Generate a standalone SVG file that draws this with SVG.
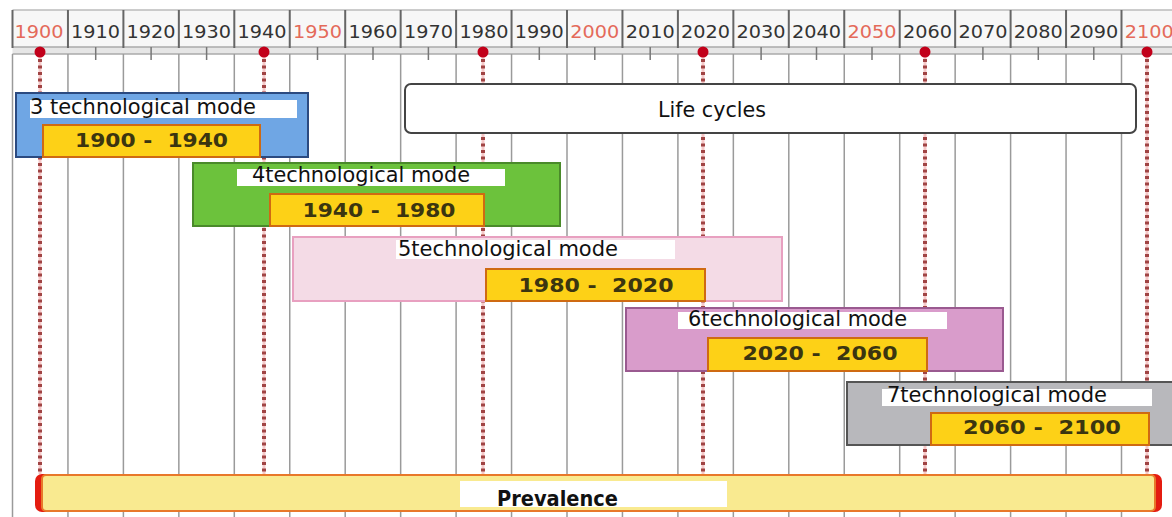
<svg xmlns="http://www.w3.org/2000/svg" width="1172" height="517" viewBox="0 0 1172 517">
<style>
.yr{font-family:"DejaVu Sans","Liberation Sans",sans-serif;font-size:18px;text-anchor:middle;fill:#333}
.yr.r{fill:#e46a5a}
.grid{stroke:#9a9a9a;stroke-width:1.5}
.div{stroke:#666;stroke-width:2}
.tick{stroke:#777;stroke-width:1.5}
.dot{fill:#c2001a}
.dl{stroke:#a04444;stroke-width:4;stroke-dasharray:3 3.5;fill:none}
.dlbg{stroke:#f6c8c8;stroke-width:3;fill:none}
.ttl{font-family:"DejaVu Sans","Liberation Sans",sans-serif;font-size:21px;fill:#111}
.rng{font-family:"DejaVu Sans","Liberation Sans",sans-serif;font-size:20px;font-weight:bold;fill:#3b3510;text-anchor:middle;white-space:pre}
.yb{fill:#fdd117;stroke:#cf6a12;stroke-width:2}
.hl{fill:#ffffff}
</style>
<rect width="1172" height="517" fill="#ffffff"/>
<g id="timeline-header">
  <rect x="12.5" y="10" width="1160" height="38" fill="#f7f7f7"/>
  <line x1="12.5" y1="10" x2="1172" y2="10" stroke="#bbb" stroke-width="1.5"/>
  <rect x="12.5" y="47" width="1160" height="7" fill="#e6e6e6"/>
  <line x1="12.5" y1="47" x2="1172" y2="47" stroke="#aaa" stroke-width="1.5"/>
  <line x1="12.5" y1="54" x2="1172" y2="54" stroke="#aaa" stroke-width="1.5"/>
  <g class="div">
    <line x1="12.5" y1="10" x2="12.5" y2="48"/><line x1="67.95" y1="10" x2="67.95" y2="48"/><line x1="123.4" y1="10" x2="123.4" y2="48"/><line x1="178.85" y1="10" x2="178.85" y2="48"/><line x1="234.3" y1="10" x2="234.3" y2="48"/><line x1="289.75" y1="10" x2="289.75" y2="48"/><line x1="345.2" y1="10" x2="345.2" y2="48"/><line x1="400.65" y1="10" x2="400.65" y2="48"/><line x1="456.1" y1="10" x2="456.1" y2="48"/><line x1="511.55" y1="10" x2="511.55" y2="48"/><line x1="567" y1="10" x2="567" y2="48"/><line x1="622.45" y1="10" x2="622.45" y2="48"/><line x1="677.9" y1="10" x2="677.9" y2="48"/><line x1="733.35" y1="10" x2="733.35" y2="48"/><line x1="788.8" y1="10" x2="788.8" y2="48"/><line x1="844.25" y1="10" x2="844.25" y2="48"/><line x1="899.7" y1="10" x2="899.7" y2="48"/><line x1="955.15" y1="10" x2="955.15" y2="48"/><line x1="1010.6" y1="10" x2="1010.6" y2="48"/><line x1="1066.05" y1="10" x2="1066.05" y2="48"/><line x1="1121.5" y1="10" x2="1121.5" y2="48"/>
  </g>
  <g class="tick">
    <line x1="95.7" y1="47" x2="95.7" y2="60"/><line x1="151.1" y1="47" x2="151.1" y2="60"/><line x1="206.6" y1="47" x2="206.6" y2="60"/><line x1="317.5" y1="47" x2="317.5" y2="60"/><line x1="373" y1="47" x2="373" y2="60"/><line x1="428.4" y1="47" x2="428.4" y2="60"/><line x1="539.3" y1="47" x2="539.3" y2="60"/><line x1="594.8" y1="47" x2="594.8" y2="60"/><line x1="650.2" y1="47" x2="650.2" y2="60"/><line x1="761.1" y1="47" x2="761.1" y2="60"/><line x1="816.5" y1="47" x2="816.5" y2="60"/><line x1="872" y1="47" x2="872" y2="60"/><line x1="982.9" y1="47" x2="982.9" y2="60"/><line x1="1038.3" y1="47" x2="1038.3" y2="60"/><line x1="1093.8" y1="47" x2="1093.8" y2="60"/>
  </g>
  <text class="yr r" x="39" y="38" textLength="49" lengthAdjust="spacingAndGlyphs">1900</text>
  <text class="yr" x="95.5" y="38" textLength="49" lengthAdjust="spacingAndGlyphs">1910</text>
  <text class="yr" x="151" y="38" textLength="49" lengthAdjust="spacingAndGlyphs">1920</text>
  <text class="yr" x="206.5" y="38" textLength="49" lengthAdjust="spacingAndGlyphs">1930</text>
  <text class="yr" x="262" y="38" textLength="49" lengthAdjust="spacingAndGlyphs">1940</text>
  <text class="yr r" x="317.5" y="38" textLength="49" lengthAdjust="spacingAndGlyphs">1950</text>
  <text class="yr" x="373" y="38" textLength="49" lengthAdjust="spacingAndGlyphs">1960</text>
  <text class="yr" x="428.4" y="38" textLength="49" lengthAdjust="spacingAndGlyphs">1970</text>
  <text class="yr" x="483.9" y="38" textLength="49" lengthAdjust="spacingAndGlyphs">1980</text>
  <text class="yr" x="539.3" y="38" textLength="49" lengthAdjust="spacingAndGlyphs">1990</text>
  <text class="yr r" x="594.8" y="38" textLength="49" lengthAdjust="spacingAndGlyphs">2000</text>
  <text class="yr" x="650.2" y="38" textLength="49" lengthAdjust="spacingAndGlyphs">2010</text>
  <text class="yr" x="705.6" y="38" textLength="49" lengthAdjust="spacingAndGlyphs">2020</text>
  <text class="yr" x="761.1" y="38" textLength="49" lengthAdjust="spacingAndGlyphs">2030</text>
  <text class="yr" x="816.5" y="38" textLength="49" lengthAdjust="spacingAndGlyphs">2040</text>
  <text class="yr r" x="872" y="38" textLength="49" lengthAdjust="spacingAndGlyphs">2050</text>
  <text class="yr" x="927.4" y="38" textLength="49" lengthAdjust="spacingAndGlyphs">2060</text>
  <text class="yr" x="982.9" y="38" textLength="49" lengthAdjust="spacingAndGlyphs">2070</text>
  <text class="yr" x="1038.3" y="38" textLength="49" lengthAdjust="spacingAndGlyphs">2080</text>
  <text class="yr" x="1093.8" y="38" textLength="49" lengthAdjust="spacingAndGlyphs">2090</text>
  <text class="yr r" x="1149.2" y="38" textLength="49" lengthAdjust="spacingAndGlyphs">2100</text>
</g>
<g id="grid" class="grid">
  <line x1="12.5" y1="54" x2="12.5" y2="517"/><line x1="67.95" y1="54" x2="67.95" y2="517"/><line x1="123.4" y1="54" x2="123.4" y2="517"/><line x1="178.85" y1="54" x2="178.85" y2="517"/><line x1="234.3" y1="54" x2="234.3" y2="517"/><line x1="289.75" y1="54" x2="289.75" y2="517"/><line x1="345.2" y1="54" x2="345.2" y2="517"/><line x1="400.65" y1="54" x2="400.65" y2="517"/><line x1="456.1" y1="54" x2="456.1" y2="517"/><line x1="511.55" y1="54" x2="511.55" y2="517"/><line x1="567" y1="54" x2="567" y2="517"/><line x1="622.45" y1="54" x2="622.45" y2="517"/><line x1="677.9" y1="54" x2="677.9" y2="517"/><line x1="733.35" y1="54" x2="733.35" y2="517"/><line x1="788.8" y1="54" x2="788.8" y2="517"/><line x1="844.25" y1="54" x2="844.25" y2="517"/><line x1="899.7" y1="54" x2="899.7" y2="517"/><line x1="955.15" y1="54" x2="955.15" y2="517"/><line x1="1010.6" y1="54" x2="1010.6" y2="517"/><line x1="1066.05" y1="54" x2="1066.05" y2="517"/><line x1="1121.5" y1="54" x2="1121.5" y2="517"/>
</g>
<g id="connectors">
  <g class="dlbg">
    <line x1="40" y1="56" x2="40" y2="474"/><line x1="264" y1="56" x2="264" y2="474"/><line x1="483" y1="56" x2="483" y2="474"/><line x1="703" y1="56" x2="703" y2="474"/><line x1="925" y1="56" x2="925" y2="474"/><line x1="1147" y1="56" x2="1147" y2="474"/>
  </g>
  <g class="dl">
    <line x1="40" y1="59" x2="40" y2="474"/><line x1="264" y1="59" x2="264" y2="474"/><line x1="483" y1="59" x2="483" y2="474"/><line x1="703" y1="59" x2="703" y2="474"/><line x1="925" y1="59" x2="925" y2="474"/><line x1="1147" y1="59" x2="1147" y2="474"/>
  </g>
  <g class="dot">
    <circle cx="40" cy="52" r="5.5"/><circle cx="264" cy="52" r="5.5"/><circle cx="483" cy="52" r="5.5"/><circle cx="703" cy="52" r="5.5"/><circle cx="925" cy="52" r="5.5"/><circle cx="1147" cy="52" r="5.5"/>
  </g>
</g>
<g id="life-cycles">
  <rect x="405" y="84" width="731" height="49" rx="6" fill="#ffffff" stroke="#444" stroke-width="2"/>
  <text class="ttl" x="658" y="117" textLength="108" lengthAdjust="spacingAndGlyphs">Life cycles</text>
</g>
<g id="mode3">
  <rect x="16" y="93" width="292" height="64" fill="#6fa6e4" stroke="#2b4a80" stroke-width="2"/>
  <rect class="hl" x="30" y="100" width="267" height="18"/>
  <text class="ttl" x="30" y="114" textLength="226" lengthAdjust="spacingAndGlyphs">3 technological mode</text>
  <rect class="yb" x="43" y="125" width="217" height="32"/>
  <text class="rng" x="151.5" y="147" textLength="153" lengthAdjust="spacingAndGlyphs">1900 -  1940</text>
</g>
<g id="mode4">
  <rect x="193" y="163" width="367" height="63" fill="#6cc23c" stroke="#4a8a2a" stroke-width="2"/>
  <rect class="hl" x="237" y="169" width="268" height="17"/>
  <text class="ttl" x="252" y="182" textLength="218" lengthAdjust="spacingAndGlyphs">4technological mode</text>
  <rect class="yb" x="270" y="194" width="214" height="32"/>
  <text class="rng" x="379" y="217" textLength="153" lengthAdjust="spacingAndGlyphs">1940 -  1980</text>
</g>
<g id="mode5">
  <rect x="293" y="237" width="489" height="64" fill="#f4dbe6" stroke="#e8a0c0" stroke-width="2"/>
  <rect class="hl" x="396" y="240" width="279" height="19"/>
  <text class="ttl" x="398" y="256" textLength="220" lengthAdjust="spacingAndGlyphs">5technological mode</text>
  <rect class="yb" x="486" y="269" width="219" height="32"/>
  <text class="rng" x="596" y="292" textLength="155" lengthAdjust="spacingAndGlyphs">1980 -  2020</text>
</g>
<g id="mode6">
  <rect x="626" y="308" width="377" height="63" fill="#d99ccb" stroke="#9a5a90" stroke-width="2"/>
  <rect class="hl" x="678" y="312" width="269" height="17"/>
  <text class="ttl" x="688" y="326" textLength="219" lengthAdjust="spacingAndGlyphs">6technological mode</text>
  <rect class="yb" x="708" y="338" width="219" height="33"/>
  <text class="rng" x="820" y="360" textLength="155" lengthAdjust="spacingAndGlyphs">2020 -  2060</text>
</g>
<g id="mode7">
  <rect x="847" y="382" width="330" height="63" fill="#b8b8bc" stroke="#555" stroke-width="2"/>
  <rect class="hl" x="882" y="389" width="270" height="17"/>
  <text class="ttl" x="887" y="402" textLength="220" lengthAdjust="spacingAndGlyphs">7technological mode</text>
  <rect class="yb" x="931" y="413" width="218" height="32"/>
  <text class="rng" x="1042" y="434" textLength="158" lengthAdjust="spacingAndGlyphs">2060 -  2100</text>
</g>
<g id="prevalence">
  <rect x="35" y="474" width="1127" height="38" rx="7" fill="#e41c10"/>
  <rect x="42" y="475" width="1113" height="36" rx="4" fill="#f9ea90" stroke="#e8782a" stroke-width="2"/>
  <rect class="hl" x="460" y="481" width="267" height="26"/>
  <text x="497" y="506" font-family="DejaVu Sans, Liberation Sans, sans-serif" font-size="22" font-weight="bold" fill="#111" textLength="121" lengthAdjust="spacingAndGlyphs">Prevalence</text>
</g>
</svg>
